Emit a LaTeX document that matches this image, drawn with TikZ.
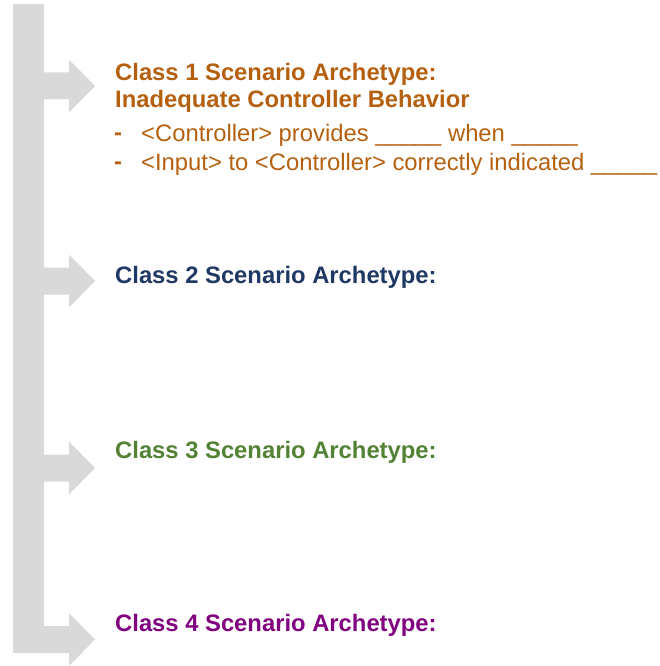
\documentclass[tikz,border=0pt]{standalone}
\usepackage{fontspec}
\setmainfont{Liberation Sans}
\definecolor{barGray}{HTML}{D9D9D9}
\definecolor{classOne}{HTML}{B5600F}
\definecolor{classTwo}{HTML}{1F3864}
\definecolor{classThree}{HTML}{548235}
\definecolor{classFour}{HTML}{800080}
\begin{document}
\begin{tikzpicture}[x=1pt,y=-1pt,
  heading/.style={anchor=base west,inner sep=0pt,font=\fontsize{23.8}{28}\selectfont\bfseries},
  bodyline/.style={anchor=base west,inner sep=0pt,font=\fontsize{23.8}{28}\selectfont,text=classOne},
  dashmark/.style={anchor=base west,inner sep=0pt,font=\fontsize{23.8}{28}\selectfont\bfseries,text=classOne},
  branch/.style={fill=barGray}]
\useasboundingbox (0,0) rectangle (660,666);
% vertical spine, ending flush with the last branch
\fill[barGray] (13,4) rectangle (44,653);
% right-pointing branches off the spine
\foreach \yc/\nm in {86/a1,281/a2,468/a3,639.5/a4}{
  \fill[branch] (43,\yc-13.5) -- (69,\yc-13.5) -- (69,\yc-26.5) -- (95,\yc)
    -- (69,\yc+26.5) -- (69,\yc+13.5) -- (43,\yc+13.5) -- cycle;
}
% class 1
\node[heading,text=classOne] (c1a) at (115,81) {Class 1 Scenario Archetype:};
\node[heading,text=classOne] (c1b) at (115,108) {Inadequate Controller Behavior};
\node[dashmark] (d1) at (114,140) {-};
\node[bodyline] (l1) at (141,141) {<Controller> provides \_\_\_\_\_ when \_\_\_\_\_};
\node[dashmark] (d2) at (114,169) {-};
\node[bodyline] (l2) at (141,170) {<Input> to <Controller> correctly indicated \_\_\_\_\_};
% classes 2 to 4
\node[heading,text=classTwo] (c2) at (115,283) {Class 2 Scenario Archetype:};
\node[heading,text=classThree] (c3) at (115,458) {Class 3 Scenario Archetype:};
\node[heading,text=classFour] (c4) at (115,631) {Class 4 Scenario Archetype:};
\end{tikzpicture}
\end{document}
